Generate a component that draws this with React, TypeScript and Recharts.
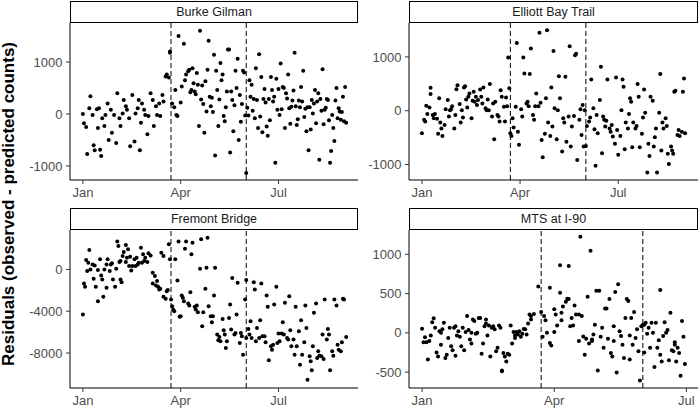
import React from 'react';
import { ScatterChart, Scatter, XAxis, YAxis, ReferenceLine } from 'recharts';

// day of year 2020 (0 = Jan 1)
const monthTicks = [0, 91, 182];
const monthNames = ['Jan', 'Apr', 'Jul'];
const eventDays = [82, 152]; // Mar 23, Jun 1

const burkeTicks = [-1000, 0, 1000];
const elliottTicks = [-1000, 0, 1000];
const fremontTicks = [-8000, -4000, 0];
const mtsTicks = [-500, 0, 500, 1000];

// [day, residual]
const burkeGilman: [number, number][] = [
  [0, 0], [1, -180], [3, -250], [4, -770], [6, 110], [7, 340], [9, -20], [10, -600], [11, -700], [13, 90],
  [14, -270], [15, 110], [16, -690], [17, -810], [18, -80], [20, -230], [21, -20], [23, 200], [24, -500], [26, 80],
  [27, -360], [29, -20], [31, -560], [32, 400], [34, -80], [35, -230], [37, 10], [38, 270], [40, 150], [41, 80],
  [43, -80], [44, -620], [46, 365], [48, -530], [49, 10], [51, 110], [52, 270], [53, -700], [54, -170], [55, 200],
  [57, 80], [58, -20], [60, -390], [61, -40], [63, 400], [65, 270], [66, -230], [68, 150], [69, -20], [71, 200],
  [72, -40], [74, 365], [75, 240], [77, 720], [78, 760], [80, 700], [81, 1200], [81, 1180], [83, 200], [85, 130],
  [86, 460], [87, -20], [88, -40], [89, 1500], [91, 220], [92, 530], [94, 1350], [95, 650], [96, 760], [98, 820],
  [99, 850], [100, 420], [101, 460], [102, 880], [103, 590], [104, 430], [105, 380], [106, 790], [107, 560], [108, -230],
  [109, 1600], [110, 280], [111, 550], [112, 190], [113, -360], [114, 630], [115, 50], [116, 850], [117, 1410], [118, 330],
  [119, 150], [120, 310], [121, 40], [122, 1140], [123, -800], [124, 830], [125, 460], [126, -230], [127, 280], [128, 980],
  [129, 650], [130, 760], [131, -40], [132, -140], [133, 130], [134, 430], [135, 1240], [136, 1240], [137, -740], [138, 430],
  [139, 270], [140, -330], [141, 170], [142, 830], [143, 500], [144, 1060], [145, -500], [146, 365], [147, -150], [148, 190],
  [149, 830], [150, 800], [151, -30], [152, -1135], [153, 120], [154, -30], [155, 650], [156, 330], [157, 560], [158, 60],
  [159, 290], [160, -80], [161, 880], [162, 270], [163, -270], [164, 1150], [165, -50], [166, 710], [167, -350], [168, 290],
  [169, 480], [170, 220], [171, -240], [172, -420], [173, 290], [174, -120], [175, 710], [176, 460], [177, 240], [178, 330],
  [179, -940], [180, 680], [181, 80], [182, 480], [183, -20], [184, 970], [185, 90], [186, 520], [187, 500], [188, -270],
  [189, 400], [190, 300], [191, 760], [192, 110], [193, -190], [194, 140], [195, 260], [196, 450], [197, 1180], [198, 150],
  [199, -210], [200, -100], [201, 260], [202, 130], [203, 520], [204, 240], [205, 830], [206, -60], [207, 100], [208, -330],
  [209, 130], [210, -700], [211, 130], [212, -300], [213, 270], [214, 10], [215, 200], [216, 460], [217, -180], [218, 240],
  [219, 400], [220, -880], [221, 290], [222, 60], [223, 860], [224, -200], [225, 80], [226, 120], [227, 290], [228, 270],
  [229, -120], [230, -940], [231, -710], [232, -20], [233, -270], [234, -520], [235, 260], [236, 500], [237, -80], [238, 110],
  [239, 50], [240, -110], [241, 40], [242, 330], [243, -140], [244, 520], [245, -170],
];

const elliottBay: [number, number][] = [
  [0, -420], [2, -170], [3, -200], [4, 90], [5, -60], [7, 60], [8, 310], [8, 425], [10, -80], [11, -140],
  [12, -60], [14, -150], [15, -430], [16, 230], [17, -220], [18, -330], [19, -470], [21, -265], [22, 25], [24, 200],
  [25, -110], [26, 10], [27, 25], [28, 85], [30, -330], [31, -80], [32, 400], [33, 475], [35, 125], [36, -220],
  [37, 10], [38, -125], [39, 430], [40, 455], [41, 210], [42, 60], [43, 260], [44, 320], [46, -140], [47, 185],
  [48, 350], [49, 165], [50, 260], [51, 105], [52, 200], [54, 395], [55, 260], [56, 135], [57, 430], [59, 45],
  [60, 10], [61, 210], [62, 10], [63, 495], [65, -110], [66, 135], [67, -530], [68, 165], [70, -80], [71, -110],
  [72, -200], [73, 380], [74, 260], [76, 75], [77, -200], [78, 245], [79, 85], [80, 990], [81, 415], [82, -420],
  [83, -470], [84, -140], [85, -310], [87, 75], [88, 1260], [89, -390], [90, -635], [92, 25], [93, -110], [94, 990],
  [95, 690], [97, 135], [98, 165], [99, 85], [100, 680], [101, 1155], [103, -80], [104, -170], [105, 85], [106, 320],
  [108, 85], [109, 1450], [110, 150], [111, -545], [112, -865], [114, -430], [115, 230], [116, 1495], [117, -220], [119, -470],
  [120, 430], [121, -295], [122, 1110], [123, 45], [125, -530], [126, 10], [127, 640], [128, 230], [130, -760], [131, -140],
  [132, -220], [133, 630], [134, -575], [136, -110], [137, 1200], [138, -665], [139, -295], [141, -100], [142, 1030], [143, 1060],
  [144, -915], [146, -170], [147, 25], [148, -450], [149, 105], [150, -665], [151, 10], [152, -655], [153, -285], [155, -200],
  [156, -125], [157, 580], [159, 45], [160, -345], [161, -1025], [162, -80], [163, -420], [165, 200], [166, 815], [167, -790],
  [168, -110], [169, -170], [170, -295], [171, -185], [172, 580], [174, -330], [175, -390], [176, -265], [177, -480], [179, -615],
  [180, 615], [181, -360], [182, -820], [184, -470], [185, 10], [186, 580], [187, 445], [188, -715], [189, -220], [191, -330],
  [192, -60], [193, 230], [194, 165], [195, -680], [196, -220], [198, -330], [199, -285], [200, 495], [201, 260], [202, -680],
  [204, -430], [205, -125], [206, 395], [207, -40], [209, -1150], [210, -615], [211, -840], [212, 260], [214, 185], [215, -665],
  [216, -495], [217, -330], [218, -1150], [220, -40], [221, 680], [222, -740], [223, -220], [224, -330], [226, -140], [227, -285],
  [228, -800], [229, -990], [231, -665], [232, -740], [233, -800], [234, 350], [235, 370], [237, -450], [238, -360], [239, -470],
  [241, -390], [242, 350], [243, 600], [244, -420],
];

const fremontBridge: [number, number][] = [
  [0, -4320], [1, -1340], [2, -1660], [3, 900], [4, -160], [5, 640], [6, 1850], [7, 0], [9, 480], [10, -900],
  [11, 380], [12, -1660], [14, -3040], [14, -60], [16, 960], [17, -580], [18, -960], [19, -2620], [20, 0], [22, 480],
  [22, -1760], [23, 960], [25, -160], [26, 480], [27, 580], [28, -960], [30, -1660], [31, 60], [32, 2660], [33, 2240],
  [34, 700], [35, -960], [35, 800], [36, -1220], [37, 1280], [38, 1660], [40, 700], [40, 2340], [41, 1120], [42, 1920],
  [43, 320], [44, 1220], [45, -100], [46, 320], [48, 960], [49, 320], [50, 1120], [51, 480], [52, 640], [54, 2080],
  [55, 640], [56, 1440], [57, 800], [58, 1120], [60, 700], [61, 1540], [63, 1340], [65, -320], [65, -1340], [67, -640],
  [68, -1540], [69, -1120], [70, -1660], [71, -1920], [72, -1860], [73, 1600], [75, 1280], [75, -2620], [77, -2820], [78, -2080],
  [79, -1980], [80, 2400], [81, 960], [82, -2880], [83, -3520], [84, -3840], [85, -4000], [86, 960], [88, -1060], [89, 2660],
  [90, -4540], [91, -4480], [92, -2500], [93, -2720], [94, -3040], [95, 1980], [96, 2660], [98, -3260], [99, -3460], [100, -2180],
  [101, 1440], [102, 2560], [104, -3580], [105, -3840], [106, -3460], [107, -4100], [109, 60], [110, 2880], [111, -5440], [112, -4100],
  [114, -1860], [115, 160], [116, 3040], [117, -3520], [119, -4480], [120, -5060], [121, -4480], [122, -2500], [123, 160], [125, -6240],
  [126, -6780], [127, -6460], [128, -6880], [130, -4740], [131, -5820], [132, -6240], [133, -7520], [134, -6880], [136, -4640], [137, -3360],
  [138, -5760], [139, -830], [141, -6240], [142, -6080], [143, -4320], [144, -1280], [146, -7040], [147, -6080], [148, -6400], [149, -8160],
  [151, -2880], [152, -6560], [152, -1020], [154, -5700], [155, -6240], [156, -4960], [157, -6560], [159, -1220], [160, -1920], [161, -6880],
  [162, -5600], [164, -6560], [165, -4860], [166, -1340], [167, -6400], [169, -6400], [170, -6980], [171, -2500], [172, -3580], [173, -8700],
  [175, -7360], [176, -7680], [177, -7200], [178, -3360], [180, -1660], [181, -7040], [182, -6140], [183, -6880], [185, -6140], [186, -5060],
  [187, -6240], [188, -3200], [190, -6560], [191, -6720], [192, -2560], [193, -5820], [194, -7360], [196, -6720], [197, -8160], [198, -3580],
  [199, -7360], [201, -5920], [202, -9120], [203, -4860], [204, -8160], [206, -6980], [207, -3460], [208, -5600], [209, -10560], [211, -8320],
  [212, -8800], [213, -9660], [214, -7360], [215, -4160], [217, -3260], [218, -8480], [219, -7840], [220, -8260], [222, -8320], [223, -6240],
  [224, -8580], [225, -2880], [227, -6720], [228, -5700], [229, -6240], [230, -9660], [232, -7840], [233, -8260], [234, -2880], [236, -3460],
  [237, -7200], [238, -7680], [240, -7840], [241, -6980], [242, -2820], [243, -2880], [245, -6460],
];

const mtsI90: [number, number][] = [
  [0, 51], [1, -120], [2, -55], [3, -120], [4, -340], [5, -105], [6, -35], [7, 135], [8, 185], [9, 65],
  [10, -250], [11, -300], [12, 20], [13, 0], [13, -150], [14, 45], [15, 130], [16, -320], [17, -280], [18, -65],
  [19, 65], [20, -170], [21, -220], [22, 65], [23, -290], [23, 85], [24, -35], [25, 20], [26, -50], [27, -170],
  [28, 65], [29, -220], [30, 10], [31, 215], [32, 35], [33, -85], [34, 0], [34, -135], [35, 170], [36, 150],
  [37, -10], [38, 0], [39, 190], [40, 190], [41, -265], [42, -135], [43, 85], [44, 170], [44, 120], [45, -35],
  [46, 95], [47, -300], [48, 65], [49, 85], [50, 45], [51, -235], [52, -190], [53, 95], [54, 65], [55, -480],
  [55, -490], [56, -255], [57, -300], [58, -365], [59, -265], [60, -280], [61, 95], [62, -135], [63, 10], [64, -35],
  [64, -65], [65, 10], [66, -20], [67, 20], [68, -50], [69, -10], [70, 50], [71, 45], [72, -20], [73, 120],
  [74, 235], [75, 215], [75, 170], [77, 240], [80, 590], [82, 265], [83, -50], [84, 215], [85, 160], [86, 0],
  [88, -130], [88, 575], [89, -160], [91, 10], [91, 300], [92, 235], [93, 95], [95, 860], [95, 510], [96, 255],
  [96, 160], [97, 335], [99, 395], [100, 435], [101, 850], [101, 430], [102, 85], [103, 190], [104, 95], [105, 350],
  [106, 235], [108, 235], [108, -105], [109, 1225], [110, 215], [111, -45], [112, -280], [113, -75], [114, 460], [115, -135],
  [116, 1045], [117, -105], [117, -85], [118, -20], [119, 105], [120, 535], [121, -480], [122, 535], [123, -50], [124, 65],
  [125, -190], [126, 310], [127, 310], [128, -75], [129, 430], [130, -255], [131, -300], [132, 85], [132, -105], [133, 520],
  [134, -505], [135, 620], [136, 20], [137, -40], [138, -150], [139, -320], [140, 190], [141, 430], [142, 405], [143, -340],
  [143, -35], [144, 190], [145, -150], [146, 265], [147, -65], [148, 45], [149, -235], [150, -605], [151, 85], [152, 105],
  [153, -250], [153, 105], [154, 130], [155, -10], [156, 65], [157, -190], [158, 130], [159, 0], [160, -435], [161, 130],
  [162, -190], [163, -95], [164, -280], [164, 545], [165, -365], [166, -40], [167, 135], [168, 0], [169, 35], [170, -350],
  [171, 255], [172, -220], [173, -235], [174, -120], [174, -150], [175, -365], [176, -190], [177, -255], [178, -545], [179, 150],
  [180, -50], [181, -395],
];

const FONT = '"Liberation Sans", Arial, Helvetica, sans-serif';
const TICK = { fontSize: 13, fill: '#4D4D4D', fontFamily: FONT };

const toPoints = (rows: [number, number][]) => rows.map(([day, resid]) => ({ day, resid }));

const Dot = (p: any) => <circle cx={p.cx} cy={p.cy} r={2} fill="#000" />;

type PanelProps = {
  name: string;
  rows: [number, number][];
  xDomain: [number, number];
  yDomain: [number, number];
  yTicks: number[];
  left: number;
  top: number;
  width: number;
  height: number;
  axisW: number;
  mTop: number;
  mRight: number;
  xAxisH: number;
};

function Panel(p: PanelProps) {
  const plotW = p.width - p.axisW - p.mRight;
  return (
    <>
      <div style={{ position: 'absolute', left: p.left, top: p.top }}>
        <ScatterChart width={p.width} height={p.height} margin={{ top: p.mTop, right: p.mRight, bottom: 0, left: 0 }}>
          <XAxis
            type="number" dataKey="day" domain={p.xDomain} allowDataOverflow
            ticks={monthTicks} interval={0} height={p.xAxisH}
            tickFormatter={(v: number) => monthNames[monthTicks.indexOf(v)]}
            tick={TICK} tickSize={4} tickMargin={3.5}
            axisLine={{ stroke: '#000', strokeWidth: 1 }} tickLine={{ stroke: '#333' }}
          />
          <YAxis
            type="number" dataKey="resid" domain={p.yDomain} allowDataOverflow
            ticks={p.yTicks} interval={0} width={p.axisW}
            tick={TICK} tickSize={4} tickMargin={3.5}
            axisLine={{ stroke: '#000', strokeWidth: 1 }} tickLine={{ stroke: '#333' }}
          />
          {eventDays.map((d) => (
            <ReferenceLine key={d} x={d} stroke="#000" strokeWidth={1} strokeDasharray="5 3" />
          ))}
          <Scatter data={toPoints(p.rows)} shape={Dot} isAnimationActive={false} />
        </ScatterChart>
      </div>
      <div style={{
        position: 'absolute', left: p.left + p.axisW, top: p.top + p.mTop - 22.5,
        width: plotW, height: 22.5, boxSizing: 'border-box', border: '1.5px solid #000',
        display: 'flex', alignItems: 'center', justifyContent: 'center',
        fontFamily: FONT, fontSize: 12.5, color: '#1A1A1A', background: '#fff',
      }}>
        {p.name}
      </div>
    </>
  );
}

export default function App() {
  return (
    <div style={{ position: 'absolute', left: 0, top: 0, width: 700, height: 408, background: '#fff', overflow: 'hidden' }}>
      <Panel name="Burke Gilman" rows={burkeGilman} xDomain={[-12, 256]} yDomain={[-1270, 1750]} yTicks={burkeTicks}
        left={0} top={0} width={362} height={205} axisW={70} mTop={23} mRight={4} xAxisH={25} />
      <Panel name="Elliott Bay Trail" rows={elliottBay} xDomain={[-12, 256]} yDomain={[-1288, 1630]} yTicks={elliottTicks}
        left={360} top={0} width={340} height={205} axisW={49} mTop={23} mRight={2} xAxisH={25} />
      <Panel name="Fremont Bridge" rows={fremontBridge} xDomain={[-12, 256]} yDomain={[-11350, 3770]} yTicks={fremontTicks}
        left={0} top={205} width={362} height={203} axisW={70} mTop={25} mRight={4} xAxisH={20} />
      <Panel name="MTS at I-90" rows={mtsI90} xDomain={[-9, 190]} yDomain={[-702, 1310]} yTicks={mtsTicks}
        left={360} top={205} width={340} height={203} axisW={49} mTop={25} mRight={2} xAxisH={20} />
      <svg width={30} height={408} style={{ position: 'absolute', left: 0, top: 0 }}>
        <text transform="rotate(-90)" x={-204} y={14} textAnchor="middle"
          fontFamily={FONT} fontWeight="bold" fontSize={17} fill="#000">
          Residuals (observed - predicted counts)
        </text>
      </svg>
    </div>
  );
}
